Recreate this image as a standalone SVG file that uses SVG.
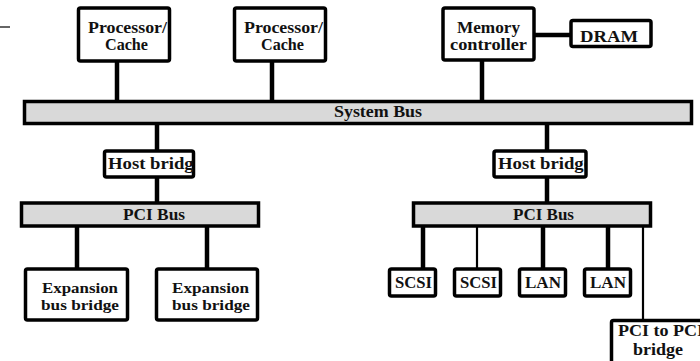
<svg xmlns="http://www.w3.org/2000/svg" width="700" height="361" viewBox="0 0 700 361">
<defs>
<style>
.box{fill:#fff;stroke:#000;stroke-width:3.5}
.bus{fill:#d9d9d9;stroke:#000;stroke-width:3.5}
.t{font-family:"Liberation Serif","Times New Roman",serif;font-weight:bold;font-size:16px;fill:#111}
.s{font-size:15px}
.thick{stroke:#000;stroke-width:4.5;fill:none}
.thin{stroke:#000;stroke-width:2.2;fill:none}
</style>
<clipPath id="cHB1"><rect x="106" y="152" width="87" height="24"/></clipPath>
<clipPath id="cHB2"><rect x="496" y="152" width="89" height="24"/></clipPath>
</defs>
<rect width="700" height="361" fill="#fff"/>
<line x1="0" y1="27" x2="10" y2="27" stroke="#666" stroke-width="2"/>
<g id="connectors">
<line class="thick" x1="117" y1="61" x2="117" y2="101"/>
<line class="thick" x1="272" y1="61" x2="272" y2="101"/>
<line class="thick" x1="482" y1="60" x2="482" y2="101"/>
<line class="thick" x1="534" y1="35" x2="571" y2="35"/>
<line class="thick" x1="157" y1="124" x2="157" y2="151"/>
<line class="thick" x1="157" y1="177" x2="157" y2="203"/>
<line class="thick" x1="547" y1="124" x2="547" y2="151"/>
<line class="thick" x1="547" y1="177" x2="547" y2="203"/>
<line class="thick" x1="77" y1="226" x2="77" y2="269"/>
<line class="thick" x1="207" y1="226" x2="207" y2="269"/>
<line class="thick" x1="423" y1="226" x2="423" y2="269"/>
<line class="thin" x1="477" y1="226" x2="477" y2="269"/>
<line class="thick" x1="543" y1="226" x2="543" y2="269"/>
<line class="thick" x1="608" y1="226" x2="608" y2="269"/>
<line class="thin" x1="643" y1="226" x2="643" y2="320"/>
</g>
<g id="proc1"><rect class="box" x="78.5" y="8" width="91" height="53" rx="2"/>
<text class="t" x="88" y="33" textLength="79" lengthAdjust="spacingAndGlyphs">Processor/</text>
<text class="t" x="105" y="50" textLength="43" lengthAdjust="spacingAndGlyphs">Cache</text></g>
<g id="proc2"><rect class="box" x="234.5" y="8" width="91" height="53" rx="2"/>
<text class="t" x="244" y="33" textLength="79" lengthAdjust="spacingAndGlyphs">Processor/</text>
<text class="t" x="261" y="50" textLength="43" lengthAdjust="spacingAndGlyphs">Cache</text></g>
<g id="memctrl"><rect class="box" x="443" y="8" width="91" height="52" rx="2"/>
<text class="t" x="457" y="33" textLength="63" lengthAdjust="spacingAndGlyphs">Memory</text>
<text class="t" x="450" y="50" textLength="77" lengthAdjust="spacingAndGlyphs">controller</text></g>
<g id="dram"><rect class="box" x="571" y="20.5" width="80" height="26" rx="2"/>
<text class="t" x="580" y="42" textLength="58" lengthAdjust="spacingAndGlyphs">DRAM</text></g>
<g id="sysbus"><rect class="bus" x="24.5" y="101.5" width="667" height="22"/>
<text class="t" x="334" y="117" textLength="88" lengthAdjust="spacingAndGlyphs">System Bus</text></g>
<g id="hostbridge1"><rect class="box" x="104.5" y="151" width="89" height="26" rx="2"/>
<text class="t" x="108" y="169" textLength="94" lengthAdjust="spacingAndGlyphs" clip-path="url(#cHB1)">Host bridge</text></g>
<g id="hostbridge2"><rect class="box" x="494" y="151" width="92" height="26" rx="2"/>
<text class="t" x="498" y="169" textLength="94" lengthAdjust="spacingAndGlyphs" clip-path="url(#cHB2)">Host bridge</text></g>
<g id="pcibus1"><rect class="bus" x="21.5" y="203" width="237" height="23"/>
<text class="t" x="123" y="220" textLength="62" lengthAdjust="spacingAndGlyphs">PCI Bus</text></g>
<g id="pcibus2"><rect class="bus" x="413.5" y="203" width="237" height="23"/>
<text class="t" x="513" y="220" textLength="61" lengthAdjust="spacingAndGlyphs">PCI Bus</text></g>
<g id="exp1"><rect class="box" x="25.5" y="269" width="102" height="51" rx="2"/>
<text class="t s" x="42" y="293" textLength="76" lengthAdjust="spacingAndGlyphs">Expansion</text>
<text class="t s" x="41" y="310" textLength="78" lengthAdjust="spacingAndGlyphs">bus bridge</text></g>
<g id="exp2"><rect class="box" x="156.5" y="269" width="101" height="51" rx="2"/>
<text class="t s" x="172" y="293" textLength="77" lengthAdjust="spacingAndGlyphs">Expansion</text>
<text class="t s" x="172" y="310" textLength="78" lengthAdjust="spacingAndGlyphs">bus bridge</text></g>
<g id="scsi1"><rect class="box" x="389.5" y="269" width="46" height="27" rx="2"/>
<text class="t" x="395" y="288" textLength="37" lengthAdjust="spacingAndGlyphs">SCSI</text></g>
<g id="scsi2"><rect class="box" x="454.5" y="269" width="46" height="27" rx="2"/>
<text class="t" x="460" y="288" textLength="37" lengthAdjust="spacingAndGlyphs">SCSI</text></g>
<g id="lan1"><rect class="box" x="519.5" y="269" width="46" height="27" rx="2"/>
<text class="t" x="525" y="288" textLength="36" lengthAdjust="spacingAndGlyphs">LAN</text></g>
<g id="lan2"><rect class="box" x="584.5" y="269" width="46" height="27" rx="2"/>
<text class="t" x="590" y="288" textLength="36" lengthAdjust="spacingAndGlyphs">LAN</text></g>
<g id="pci2pci"><rect class="box" x="611.5" y="320.5" width="100" height="50" rx="2"/>
<text class="t" x="618" y="336" textLength="86" lengthAdjust="spacingAndGlyphs">PCI to PCI</text>
<text class="t" x="633" y="355" textLength="50" lengthAdjust="spacingAndGlyphs">bridge</text></g>
</svg>
